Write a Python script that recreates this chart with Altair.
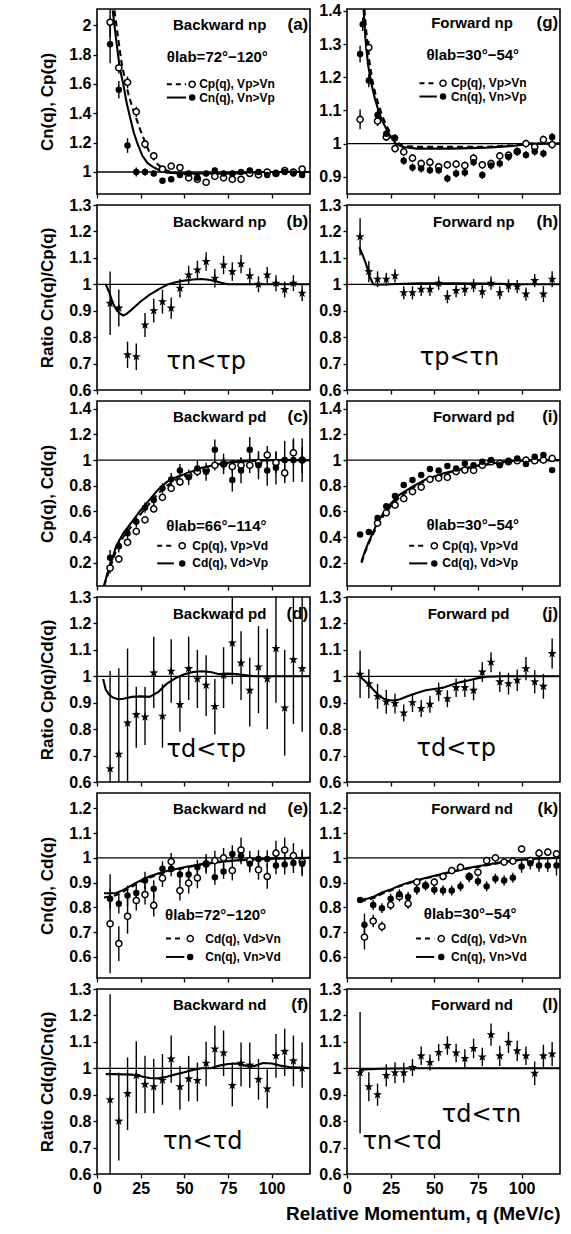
import altair as alt
import pandas as pd

FONT = "Liberation Sans"
TAU_FONT = "DejaVu Sans"
W, H = 213, 185
XDOM = [0, 122]
X_TICKS = [0, 25, 50, 75, 100]
STAR = ("M0,-1L0.235,-0.324L0.951,-0.309L0.38,0.124L0.588,0.809L0,0.4"
        "L-0.588,0.809L-0.38,0.124L-0.951,-0.309L-0.235,-0.324Z")

# ---------------- bin centres (MeV/c) ----------------
Q = [7.5, 12.5, 17.5, 22.5, 27.5, 32.5, 37.5, 42.5, 47.5, 52.5, 57.5, 62.5,
     67.5, 72.5, 77.5, 82.5, 87.5, 92.5, 97.5, 102.5, 107.5, 112.5, 117.5]
Q_I_OPEN = [17.5, 22.5, 27.5, 32.5, 37.5, 42.5, 47.5, 52.5, 57.5, 62.5, 67.5,
            72.5, 77.5, 82.5, 87.5, 92.5, 97.5, 102.5, 107.5, 112.5, 117.5]
Q_K = [10, 15, 20, 25, 30, 35, 40, 45, 50, 55, 60, 65, 70, 75, 80, 85, 90,
       95, 100, 105, 110, 115, 120]
Q_K_FILLED = [7.5, 10, 15, 20, 25, 30, 35, 40, 45, 50, 55, 60, 65, 70, 75, 80,
              85, 90, 95, 100, 105, 110, 115, 120]
Q_G_FILLED = [7.5, 9, 12.5, 17.5, 22.5, 27.5, 32.5, 37.5, 42.5, 47.5, 52.5, 57.5, 62.5,
              67.5, 72.5, 77.5, 82.5, 87.5, 92.5, 97.5, 102.5, 107.5, 112.5, 117.5]

# ---------------- (a) Backward np ----------------
A_CP = [2.02, 1.71, 1.61, 1.41, 1.19, 1.11, 1.02, 1.04, 1.03, 0.96, 0.95, 0.93,
        0.97, 0.96, 0.95, 0.95, 0.99, 0.98, 1.0, 0.99, 1.01, 1.0, 1.02]
A_CP_ERR = [0.1, 0.04, 0.04, 0.035, 0.03, 0.025, 0.02, 0.02, 0.02, 0.02,
            0.02, 0.02, 0.02, 0.02, 0.02, 0.02, 0.02, 0.02, 0.02, 0.02,
            0.02, 0.02, 0.02]
A_CN = [1.87, 1.56, 1.18, 1.0, 1.0, 0.99, 0.94, 0.95, 0.98, 0.99, 0.96, 0.99,
        1.01, 0.99, 0.99, 1.0, 1.01, 1.0, 0.98, 0.99, 1.0, 0.99, 0.98]
A_CN_ERR = [0.13, 0.06, 0.05, 0.03, 0.025, 0.02, 0.02, 0.02, 0.02, 0.02,
            0.02, 0.02, 0.02, 0.02, 0.02, 0.02, 0.02, 0.02, 0.02, 0.02,
            0.02, 0.02, 0.02]
A_FIT_CN_Q = [9, 11, 13, 15, 17, 19, 21, 23, 26, 29, 32, 36, 40, 50, 60, 70, 80, 90, 100, 110, 122]
A_FIT_CN = [2.1, 1.9, 1.71, 1.6, 1.47, 1.37, 1.27, 1.2, 1.11, 1.06, 1.035, 1.01, 0.995,
            0.99, 0.99, 0.99, 0.995, 1.0, 1.0, 1.0, 1.0]
A_FIT_CP_Q = [10, 12, 14, 16, 18, 20, 22, 25, 28, 31, 34, 38, 42, 50, 60, 70, 80, 90, 100, 110, 122]
A_FIT_CP = [2.1, 1.92, 1.75, 1.63, 1.53, 1.45, 1.38, 1.28, 1.19, 1.11, 1.06, 1.02, 1.0,
            0.985, 0.985, 0.99, 0.99, 0.995, 1.0, 1.0, 1.0]

# ---------------- (g) Forward np ----------------
G_CP = [1.073, 1.29, 1.068, 1.02, 0.985, 0.975, 0.956, 0.94, 0.944, 0.93, 0.936,
        0.938, 0.934, 0.956, 0.936, 0.94, 0.963, 0.965, 0.976, 1.0, 0.99, 1.012, 0.997]
G_CP_ERR = [0.03, 0.02, 0.015, 0.012, 0.012, 0.012, 0.012, 0.012, 0.012, 0.012,
            0.012, 0.012, 0.012, 0.012, 0.012, 0.012, 0.012, 0.012, 0.012, 0.012,
            0.012, 0.012, 0.012]
G_CN = [1.27, 1.36, 1.19, 1.086, 1.03, 1.017, 0.948, 0.928, 0.925, 0.92, 0.92, 0.895,
        0.91, 0.913, 0.944, 0.905, 0.934, 0.94, 0.96, 0.976, 0.966, 0.976, 0.97, 1.02]
G_CN_ERR = [0.025, 0.02, 0.02, 0.015, 0.012, 0.012, 0.012, 0.012, 0.012, 0.012, 0.012,
            0.012, 0.012, 0.012, 0.012, 0.012, 0.012, 0.012, 0.012, 0.012, 0.012,
            0.012, 0.012, 0.012]
G_FIT_CN_Q = [9.5, 10.5, 12, 14, 16, 18, 20, 22, 25, 28, 32, 40, 60, 80, 95, 105, 122]
G_FIT_CN = [1.405, 1.32, 1.24, 1.18, 1.135, 1.1, 1.07, 1.05, 1.02, 1.0, 0.99, 0.985,
            0.985, 0.988, 0.993, 1.0, 1.0]
G_FIT_CP_Q = [10, 11, 12.5, 14.5, 16.5, 18.5, 20.5, 22.5, 25.5, 28.5, 32, 40, 60, 80, 95, 105, 122]
G_FIT_CP = [1.405, 1.34, 1.26, 1.19, 1.145, 1.11, 1.08, 1.055, 1.025, 1.005, 0.993, 0.99,
            0.99, 0.99, 0.995, 1.0, 1.0]

# ---------------- (b) ratio Backward np ----------------
B_R = [0.928, 0.91, 0.733, 0.726, 0.846, 0.9, 0.934, 0.91, 0.985, 1.035, 1.054,
       1.086, 1.023, 1.073, 1.048, 1.077, 1.032, 1.0, 1.035, 1.004, 0.98, 1.004, 0.966]
B_ERR = [0.12, 0.07, 0.05, 0.05, 0.045, 0.045, 0.045, 0.04, 0.035, 0.035,
         0.035, 0.035, 0.035, 0.035, 0.035, 0.035,
         0.03, 0.03, 0.03, 0.03, 0.03, 0.03, 0.03]
B_FIT_Q = [5, 7, 9, 11, 13, 15, 17, 20, 25, 30, 35, 40, 45, 50, 55, 60, 65, 70, 75, 85, 100, 122]
B_FIT = [1.0, 0.97, 0.93, 0.905, 0.89, 0.882, 0.888, 0.905, 0.935, 0.96, 0.98, 0.998,
         1.008, 1.014, 1.018, 1.02, 1.016, 1.008, 1.0, 1.0, 1.0, 1.0]

# ---------------- (h) ratio Forward np ----------------
H_R = [1.18, 1.048, 1.019, 1.019, 1.032, 0.968, 0.968, 0.981, 0.981, 1.004, 0.953,
       0.976, 0.981, 0.995, 0.972, 1.004, 0.968, 0.994, 0.991, 0.963, 1.014, 0.963, 1.019]
H_ERR = [0.07, 0.04, 0.03, 0.025, 0.025, 0.025, 0.025, 0.025, 0.025, 0.025,
         0.025, 0.025, 0.025, 0.025, 0.025, 0.025, 0.025, 0.025, 0.025, 0.025,
         0.025, 0.03, 0.03]
H_FIT_Q = [7, 9, 11, 13, 15, 18, 25, 40, 60, 80, 100, 122]
H_FIT = [1.14, 1.11, 1.075, 1.03, 1.0, 0.998, 1.0, 1.004, 1.004, 1.003, 1.0, 1.0]

# ---------------- (c) Backward pd ----------------
C_CP = [0.16, 0.23, 0.36, 0.445, 0.535, 0.62, 0.71, 0.78, 0.83, 0.88, 0.91, 0.92,
        0.96, 0.97, 0.95, 0.96, 0.96, 0.98, 1.04, 0.98, 0.9, 1.057, 1.0]
C_CP_ERR = [0.04, 0.03, 0.03, 0.03, 0.025, 0.025, 0.025, 0.025, 0.03, 0.03, 0.03,
            0.04, 0.04, 0.05, 0.05, 0.06, 0.06, 0.07, 0.07, 0.08, 0.08, 0.1, 0.1]
C_CD = [0.24, 0.33, 0.43, 0.52, 0.63, 0.69, 0.78, 0.85, 0.92, 0.866, 0.935, 0.91,
        1.08, 0.97, 0.845, 0.92, 1.08, 0.96, 0.92, 0.94, 1.0, 1.0, 1.0]
C_CD_ERR = [0.06, 0.05, 0.04, 0.04, 0.04, 0.04, 0.04, 0.05, 0.05, 0.06, 0.06, 0.07,
            0.08, 0.08, 0.09, 0.1, 0.1, 0.11, 0.12, 0.13, 0.15, 0.17, 0.17]
C_FIT_Q = [4, 6, 8, 11, 15, 20, 25, 30, 35, 40, 45, 50, 55, 60, 70, 80, 90, 100, 122]
C_FIT_CD = [0.02, 0.12, 0.2, 0.33, 0.43, 0.52, 0.61, 0.69, 0.77, 0.83, 0.865, 0.89,
            0.915, 0.94, 0.97, 0.99, 0.998, 1.0, 1.0]
C_FIT_CP = [0.02, 0.1, 0.18, 0.3, 0.4, 0.49, 0.58, 0.66, 0.74, 0.8, 0.845, 0.875,
            0.905, 0.93, 0.965, 0.985, 0.995, 1.0, 1.0]

# ---------------- (i) Forward pd ----------------
I_CD = [0.42, 0.44, 0.55, 0.64, 0.72, 0.806, 0.845, 0.884, 0.93, 0.92, 0.954, 0.935,
        0.974, 0.96, 0.987, 1.0, 0.96, 0.995, 1.013, 0.97, 1.026, 1.04, 0.922]
I_CP = [0.51, 0.59, 0.65, 0.70, 0.755, 0.79, 0.85, 0.86, 0.866, 0.91, 0.922, 0.92,
        0.96, 0.987, 0.974, 0.987, 0.995, 1.0, 0.995, 1.0, 1.013]
I_FIT_Q = [8.3, 10, 12, 14, 17, 20, 25, 30, 37, 45, 55, 65, 75, 85, 95, 110, 122]
I_FIT_CD = [0.21, 0.28, 0.35, 0.41, 0.5, 0.57, 0.66, 0.73, 0.79, 0.85, 0.895, 0.93,
            0.958, 0.978, 0.993, 1.0, 1.0]
I_FIT_CP = [0.2, 0.27, 0.34, 0.4, 0.48, 0.55, 0.64, 0.71, 0.78, 0.84, 0.89, 0.925,
            0.955, 0.975, 0.99, 1.0, 1.0]

# ---------------- (d) ratio Backward pd ----------------
D_R = [0.65, 0.705, 0.823, 0.855, 0.846, 1.013, 0.849, 1.019, 0.893, 1.029, 0.99,
       0.966, 0.886, 1.004, 1.126, 1.05, 0.947, 1.035, 0.99, 1.105, 0.88, 1.063, 1.029]
D_LO = [0.5, 0.5, 0.5, 0.73, 0.74, 0.88, 0.73, 0.9, 0.79, 0.91, 0.88, 0.85, 0.78,
        0.88, 0.97, 0.91, 0.81, 0.86, 0.8, 0.9, 0.7, 0.82, 0.79]
D_HI = [1.02, 1.03, 1.105, 0.96, 0.96, 1.15, 0.97, 1.14, 1.0, 1.15, 1.1, 1.08, 0.99,
        1.11, 1.3, 1.17, 1.07, 1.19, 1.18, 1.3, 1.1, 1.3, 1.3]
D_FIT_Q = [3.5, 5, 7, 9, 12, 15, 20, 25, 30, 35, 40, 45, 50, 55, 60, 65, 70, 75, 80, 90, 100, 122]
D_FIT = [0.99, 0.95, 0.93, 0.92, 0.913, 0.915, 0.922, 0.924, 0.922, 0.94, 0.972, 0.993,
         1.008, 1.016, 1.019, 1.016, 1.008, 1.01, 1.008, 1.0, 1.0, 1.0]

# ---------------- (j) ratio Forward pd ----------------
J_R = [1.008, 0.972, 0.924, 0.903, 0.897, 0.861, 0.9, 0.878, 0.894, 0.941, 0.915,
       0.957, 0.957, 0.947, 1.016, 1.053, 0.979, 0.972, 0.985, 1.029, 0.979, 0.962, 1.086]
J_ERR = [0.09, 0.055, 0.047, 0.045, 0.038, 0.032, 0.035, 0.032, 0.032, 0.035, 0.032,
         0.035, 0.035, 0.038, 0.038, 0.038, 0.038, 0.041, 0.041, 0.044, 0.044, 0.047, 0.057]
J_FIT_Q = [6.5, 9, 12, 15, 18, 21, 24, 27, 30, 35, 40, 45, 50, 55, 60, 65, 70, 75, 80, 90, 122]
J_FIT = [1.005, 0.99, 0.972, 0.95, 0.928, 0.915, 0.91, 0.908, 0.912, 0.925, 0.937, 0.947,
         0.952, 0.957, 0.968, 0.978, 0.985, 0.993, 0.998, 1.0, 1.0]

# ---------------- (e) Backward nd ----------------
E_CD = [0.734, 0.654, 0.764, 0.828, 0.852, 0.808, 0.918, 0.985, 0.868, 0.898, 0.919,
        0.976, 0.989, 1.0, 0.949, 1.032, 0.989, 0.952, 0.925, 1.019, 1.032, 1.009, 0.985]
E_CD_ERR = [0.2, 0.07, 0.07, 0.04, 0.04, 0.045, 0.035, 0.035, 0.04, 0.042, 0.042, 0.04,
            0.04, 0.04, 0.04, 0.05, 0.04, 0.04, 0.05, 0.05, 0.05, 0.05, 0.05]
E_CN = [0.835, 0.815, 0.848, 0.858, 0.909, 0.875, 0.956, 0.956, 0.933, 0.933, 0.962,
        0.973, 0.922, 0.945, 1.016, 1.009, 0.976, 0.996, 0.996, 0.969, 0.973, 0.979, 0.976]
E_CN_ERR = [0.04, 0.04, 0.04, 0.035, 0.035, 0.035, 0.03, 0.03, 0.03, 0.03, 0.03, 0.03,
            0.03, 0.03, 0.035, 0.035, 0.035, 0.035, 0.035, 0.035, 0.04, 0.04, 0.05]
E_FIT_Q = [4, 8, 11, 14, 18, 22, 26, 30, 35, 40, 50, 60, 70, 80, 90, 100, 110, 122]
E_FIT_CN = [0.857, 0.857, 0.858, 0.867, 0.882, 0.898, 0.912, 0.925, 0.937, 0.947, 0.962,
            0.975, 0.984, 0.99, 0.994, 0.997, 0.999, 1.0]
E_FIT_CD = [0.84, 0.845, 0.85, 0.86, 0.875, 0.892, 0.907, 0.92, 0.933, 0.944, 0.96,
            0.973, 0.983, 0.99, 0.994, 0.997, 0.999, 1.0]

# ---------------- (k) Forward nd ----------------
K_CD = [0.68, 0.745, 0.723, 0.81, 0.844, 0.815, 0.902, 0.888, 0.902, 0.925, 0.949,
        0.962, 0.925, 0.942, 0.989, 1.0, 0.983, 0.987, 1.036, 0.989, 1.019, 1.023, 1.016]
K_CD_ERR = [0.05, 0.025, 0.02, 0.02, 0.02, 0.02, 0.015, 0.015, 0.015, 0.015, 0.015,
            0.015, 0.015, 0.015, 0.015, 0.015, 0.015, 0.015, 0.015, 0.015, 0.015,
            0.015, 0.015]
K_CN = [0.83, 0.73, 0.81, 0.797, 0.835, 0.853, 0.842, 0.871, 0.888, 0.871, 0.868, 0.868,
        0.885, 0.922, 0.906, 0.885, 0.916, 0.909, 0.92, 0.965, 0.978, 0.969, 0.969, 0.969]
K_CN_ERR = [0.01, 0.045, 0.02, 0.02, 0.02, 0.02, 0.02, 0.02, 0.02, 0.02, 0.02, 0.02,
            0.02, 0.02, 0.02, 0.02, 0.02, 0.02, 0.02, 0.025, 0.025, 0.025, 0.025, 0.04]
K_FIT_Q = [7.5, 12, 16, 20, 25, 30, 35, 40, 50, 60, 70, 80, 90, 100, 110, 122]
K_FIT_CN = [0.83, 0.836, 0.845, 0.86, 0.872, 0.888, 0.9, 0.91, 0.928, 0.945, 0.96,
            0.972, 0.985, 0.993, 0.998, 1.0]
K_FIT_CD = [0.825, 0.83, 0.84, 0.855, 0.868, 0.885, 0.897, 0.908, 0.926, 0.943, 0.958,
            0.97, 0.983, 0.992, 0.998, 1.0]

# ---------------- (f) ratio Backward nd ----------------
F_R = [0.881, 0.8, 0.904, 0.973, 0.939, 0.93, 0.955, 1.035, 0.93, 0.96, 0.954, 1.019,
       1.073, 1.058, 0.935, 1.019, 1.012, 0.958, 0.922, 1.047, 1.064, 1.028, 1.0]
F_LO = [0.55, 0.651, 0.766, 0.83, 0.83, 0.83, 0.862, 0.945, 0.843, 0.875, 0.875, 0.932,
        0.996, 0.971, 0.856, 0.932, 0.926, 0.881, 0.849, 0.964, 0.971, 0.932, 0.926]
F_HI = [1.28, 0.983, 1.041, 1.102, 1.047, 1.035, 1.054, 1.124, 1.009, 1.047, 1.022, 1.1,
        1.162, 1.143, 1.022, 1.098, 1.098, 1.035, 0.996, 1.13, 1.15, 1.124, 1.098]
F_FIT_Q = [5, 10, 15, 20, 25, 30, 35, 40, 45, 50, 55, 60, 65, 70, 75, 80, 85, 90, 95,
           100, 105, 110, 122]
F_FIT = [0.978, 0.978, 0.977, 0.976, 0.97, 0.963, 0.962, 0.968, 0.977, 0.985, 0.994, 1.0,
         1.0, 1.01, 1.016, 1.018, 1.01, 1.008, 1.02, 1.018, 1.01, 1.005, 1.0]

# ---------------- (l) ratio Forward nd ----------------
L_R = [0.983, 0.93, 0.9, 0.973, 0.983, 0.983, 1.003, 1.047, 1.022, 1.06, 1.086, 1.058,
       1.037, 1.075, 1.043, 1.127, 1.047, 1.098, 1.066, 1.047, 0.981, 1.047, 1.054]
L_ERR = [0.23, 0.055, 0.042, 0.042, 0.04, 0.038, 0.032, 0.035, 0.03, 0.032, 0.035, 0.035,
         0.035, 0.037, 0.035, 0.042, 0.038, 0.04, 0.038, 0.035, 0.045, 0.042, 0.045]
L_FIT_Q = [7, 10, 20, 30, 40, 60, 80, 100, 122]
L_FIT = [0.993, 0.996, 0.998, 0.999, 1.0, 1.0, 1.0, 1.0, 1.0]

RATIO_TICKS = [0.6, 0.7, 0.8, 0.9, 1.0, 1.1, 1.2, 1.3]


# ---------------- helpers ----------------
def frame(q, v, err=None, lo=None, hi=None):
    d = pd.DataFrame({"q": q, "v": v})
    if err is not None:
        d["lo"] = [a - e for a, e in zip(v, err)]
        d["hi"] = [a + e for a, e in zip(v, err)]
    if lo is not None:
        d["lo"] = lo
        d["hi"] = hi
    return d


def panel(cfg):
    xs = alt.Scale(domain=XDOM, nice=False, zero=False)
    ys = alt.Scale(domain=cfg["ydom"], nice=False, zero=False)
    xax = alt.Axis(values=X_TICKS, labels=cfg.get("xlabels", False),
                   title=cfg.get("xtitle", ""), labelFlush=False,
                   titleAnchor="end", titleFontSize=19, titlePadding=8)
    yax = alt.Axis(values=cfg["yticks"], format="~g",
                   title=cfg.get("ytitle", ""), titlePadding=12)

    def X(f="q"):
        return alt.X(f"{f}:Q", scale=xs, axis=xax)

    def Y(f="v"):
        return alt.Y(f"{f}:Q", scale=ys, axis=yax)

    layers = [alt.Chart(pd.DataFrame({"v": [1.0]}))
              .mark_rule(color="black", strokeWidth=1.3).encode(y=Y())]

    for fq, fv, dashed in cfg.get("fits", []):
        kw = {"strokeDash": [6, 4]} if dashed else {}
        layers.append(alt.Chart(pd.DataFrame({"q": fq, "v": fv}))
                      .mark_line(color="black", strokeWidth=2.1, clip=True, **kw)
                      .encode(x=X(), y=Y()))

    for kind, d in cfg.get("pts", []):
        if "lo" in d:
            layers.append(alt.Chart(d).mark_rule(color="black", strokeWidth=1.4, clip=True)
                          .encode(x=X(), y=Y("lo"), y2="hi:Q"))
    for kind, d in cfg.get("pts", []):
        if kind == "open":
            mk = alt.Chart(d).mark_point(shape="circle", filled=True, fill="white",
                                         stroke="black", strokeWidth=1.5, size=38,
                                         opacity=1, clip=True)
        elif kind == "filled":
            mk = alt.Chart(d).mark_circle(color="black", size=42, opacity=1, clip=True)
        else:
            mk = alt.Chart(d).mark_point(shape=STAR, filled=True, color="black",
                                         size=90, opacity=1, clip=True)
        layers.append(mk.encode(x=X(), y=Y()))

    hx, hy, name, tag = cfg["header"]
    layers.append(alt.Chart(pd.DataFrame({"q": [hx], "v": [hy], "t": [name]}))
                  .mark_text(align="right", baseline="middle", font=FONT,
                             fontWeight="bold", fontSize=15, color="black")
                  .encode(x=X(), y=Y(), text="t:N"))
    layers.append(alt.Chart(pd.DataFrame({"q": [121.0], "v": [hy], "t": [tag]}))
                  .mark_text(align="right", baseline="middle", font=FONT,
                             fontWeight="bold", fontSize=17, color="black")
                  .encode(x=X(), y=Y(), text="t:N"))

    if "theta" in cfg:
        tx, ty, tt = cfg["theta"]
        layers.append(alt.Chart(pd.DataFrame({"q": [tx], "v": [ty], "t": [tt]}))
                      .mark_text(align="left", baseline="middle", font=FONT,
                                 fontWeight="bold", fontSize=15, color="black")
                      .encode(x=X(), y=Y(), text="t:N"))

    if "legend" in cfg:
        x0, x1, xm, xt, y1, y2, lab1, lab2 = cfg["legend"]
        layers.append(alt.Chart(pd.DataFrame({"q": [x0, x1], "v": [y1, y1]}))
                      .mark_line(color="black", strokeWidth=2, strokeDash=[5, 4])
                      .encode(x=X(), y=Y()))
        layers.append(alt.Chart(pd.DataFrame({"q": [x0, x1], "v": [y2, y2]}))
                      .mark_line(color="black", strokeWidth=2)
                      .encode(x=X(), y=Y()))
        layers.append(alt.Chart(pd.DataFrame({"q": [xm], "v": [y1]}))
                      .mark_point(shape="circle", filled=True, fill="white", stroke="black",
                                  strokeWidth=1.5, size=38, opacity=1)
                      .encode(x=X(), y=Y()))
        layers.append(alt.Chart(pd.DataFrame({"q": [xm], "v": [y2]}))
                      .mark_circle(color="black", size=42, opacity=1)
                      .encode(x=X(), y=Y()))
        layers.append(alt.Chart(pd.DataFrame({"q": [xt, xt], "v": [y1, y2], "t": [lab1, lab2]}))
                      .mark_text(align="left", baseline="middle", font=FONT,
                                 fontWeight="bold", fontSize=12, color="black")
                      .encode(x=X(), y=Y(), text="t:N"))

    for tx, ty, tt in cfg.get("taus", []):
        layers.append(alt.Chart(pd.DataFrame({"q": [tx], "v": [ty], "t": [tt]}))
                      .mark_text(align="center", baseline="middle", font=TAU_FONT,
                                 fontSize=24, color="black")
                      .encode(x=X(), y=Y(), text="t:N"))

    return alt.layer(*layers).properties(width=W, height=H)


# ---------------- panels ----------------
pa = panel(dict(
    ydom=[0.85, 2.11], yticks=[1.0, 1.2, 1.4, 1.6, 1.8, 2.0], ytitle="Cn(q), Cp(q)",
    fits=[(A_FIT_CN_Q, A_FIT_CN, False), (A_FIT_CP_Q, A_FIT_CP, True)],
    pts=[("open", frame(Q, A_CP, A_CP_ERR)), ("filled", frame(Q, A_CN, A_CN_ERR))],
    header=(97, 2.0, "Backward np", "(a)"),
    theta=(40, 1.784, "θlab=72°−120°"),
    legend=(40, 51, 54.5, 58.5, 1.597, 1.507, "Cp(q), Vp>Vn", "Cn(q), Vn>Vp")))

pg = panel(dict(
    ydom=[0.848, 1.406], yticks=[0.9, 1.0, 1.1, 1.2, 1.3, 1.4],
    fits=[(G_FIT_CN_Q, G_FIT_CN, False), (G_FIT_CP_Q, G_FIT_CP, True)],
    pts=[("open", frame(Q, G_CP, G_CP_ERR)), ("filled", frame(Q_G_FILLED, G_CN, G_CN_ERR))],
    header=(95, 1.364, "Forward np", "(g)"),
    theta=(45.5, 1.266, "θlab=30°−54°"),
    legend=(41.5, 51.5, 55, 59.5, 1.182, 1.142, "Cp(q), Vp>Vn", "Cn(q), Vn>Vp")))

pb = panel(dict(
    ydom=[0.6, 1.3], yticks=RATIO_TICKS, ytitle="Ratio Cn(q)/Cp(q)",
    fits=[(B_FIT_Q, B_FIT, False)],
    pts=[("star", frame(Q, B_R, B_ERR))],
    header=(97, 1.237, "Backward np", "(b)"),
    taus=[(62.6, 0.707, "τn<τp")]))

ph = panel(dict(
    ydom=[0.6, 1.3], yticks=RATIO_TICKS,
    fits=[(H_FIT_Q, H_FIT, False)],
    pts=[("star", frame(Q, H_R, H_ERR))],
    header=(96, 1.237, "Forward np", "(h)"),
    taus=[(64.4, 0.72, "τp<τn")]))

pc = panel(dict(
    ydom=[0.02, 1.46], yticks=[0.2, 0.4, 0.6, 0.8, 1.0, 1.2, 1.4], ytitle="Cp(q), Cd(q)",
    fits=[(C_FIT_Q, C_FIT_CD, False), (C_FIT_Q, C_FIT_CP, True)],
    pts=[("open", frame(Q, C_CP, C_CP_ERR)), ("filled", frame(Q, C_CD, C_CD_ERR))],
    header=(97, 1.335, "Backward pd", "(c)"),
    theta=(39.7, 0.484, "θlab=66°−114°"),
    legend=(34.5, 44, 48.8, 54.6, 0.333, 0.196, "Cp(q), Vp>Vd", "Cd(q), Vd>Vp")))

pi = panel(dict(
    ydom=[0.02, 1.46], yticks=[0.2, 0.4, 0.6, 0.8, 1.0, 1.2, 1.4],
    fits=[(I_FIT_Q, I_FIT_CD, False), (I_FIT_Q, I_FIT_CP, True)],
    pts=[("open", frame(Q_I_OPEN, I_CP)), ("filled", frame(Q, I_CD))],
    header=(96, 1.335, "Forward pd", "(i)"),
    theta=(45.5, 0.497, "θlab=30°−54°"),
    legend=(35.6, 46, 50, 54.6, 0.333, 0.196, "Cp(q), Vp>Vd", "Cd(q), Vd>Vp")))

pd_ = panel(dict(
    ydom=[0.6, 1.3], yticks=RATIO_TICKS, ytitle="Ratio Cp(q)/Cd(q)",
    fits=[(D_FIT_Q, D_FIT, False)],
    pts=[("star", frame(Q, D_R, lo=D_LO, hi=D_HI))],
    header=(97, 1.235, "Backward pd", "(d)"),
    taus=[(62.6, 0.72, "τd<τp")]))

pj = panel(dict(
    ydom=[0.6, 1.3], yticks=RATIO_TICKS,
    fits=[(J_FIT_Q, J_FIT, False)],
    pts=[("star", frame(Q, J_R, J_ERR))],
    header=(93, 1.235, "Forward pd", "(j)"),
    taus=[(62.6, 0.726, "τd<τp")]))

pe = panel(dict(
    ydom=[0.515, 1.262], yticks=[0.6, 0.7, 0.8, 0.9, 1.0, 1.1, 1.2], ytitle="Cn(q), Cd(q)",
    fits=[(E_FIT_Q, E_FIT_CN, False), (E_FIT_Q, E_FIT_CD, True)],
    pts=[("open", frame(Q, E_CD, E_CD_ERR)), ("filled", frame(Q, E_CN, E_CN_ERR))],
    header=(97, 1.197, "Backward nd", "(e)"),
    theta=(39, 0.768, "θlab=72°−120°"),
    legend=(39.5, 50, 53.4, 62, 0.674, 0.6, "Cd(q), Vd>Vn", "Cn(q), Vn>Vd")))

pk = panel(dict(
    ydom=[0.515, 1.262], yticks=[0.6, 0.7, 0.8, 0.9, 1.0, 1.1, 1.2],
    fits=[(K_FIT_Q, K_FIT_CN, False), (K_FIT_Q, K_FIT_CD, True)],
    pts=[("open", frame(Q_K, K_CD, K_CD_ERR)), ("filled", frame(Q_K_FILLED, K_CN, K_CN_ERR))],
    header=(95, 1.197, "Forward nd", "(k)"),
    theta=(44, 0.774, "θlab=30°−54°"),
    legend=(39.5, 50, 54, 59.6, 0.674, 0.6, "Cd(q), Vd>Vn", "Cn(q), Vn>Vd")))

pf = panel(dict(
    ydom=[0.6, 1.3], yticks=RATIO_TICKS, ytitle="Ratio Cd(q)/Cn(q)", xlabels=True,
    fits=[(F_FIT_Q, F_FIT, False)],
    pts=[("star", frame(Q, F_R, lo=F_LO, hi=F_HI))],
    header=(97, 1.24, "Backward nd", "(f)"),
    taus=[(60.5, 0.721, "τn<τd")]))

pl = panel(dict(
    ydom=[0.6, 1.3], yticks=RATIO_TICKS, xlabels=True,
    xtitle="Relative Momentum, q (MeV/c)",
    fits=[(L_FIT_Q, L_FIT, False)],
    pts=[("star", frame(Q, L_R, L_ERR))],
    header=(95, 1.24, "Forward nd", "(l)"),
    taus=[(77, 0.824, "τd<τn"), (31.6, 0.72, "τn<τd")]))

chart = (alt.concat(pa, pg, pb, ph, pc, pi, pd_, pj, pe, pk, pf, pl,
                    columns=2, spacing={"row": 11, "column": 37}, bounds="flush")
         .properties(padding={"left": 37, "right": 5, "top": 2, "bottom": 5},
                     background="white")
         .configure_view(stroke="black", strokeWidth=1.6)
         .configure_axis(labelFont=FONT, labelFontSize=16, labelFontWeight="bold",
                         labelColor="black", labelPadding=2,
                         titleFont=FONT, titleFontSize=17, titleFontWeight="bold",
                         titleColor="black", tickColor="black", tickSize=4,
                         tickWidth=1.3, domain=False, grid=False))

chart.save("out.html", embed_options={"renderer": "svg", "actions": False})
